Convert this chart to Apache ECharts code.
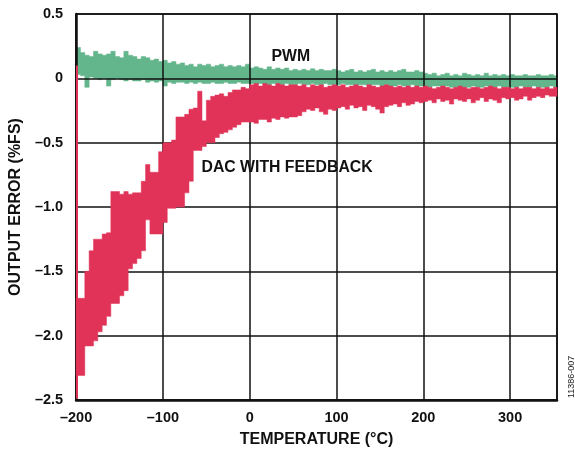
<!DOCTYPE html>
<html>
<head>
<meta charset="utf-8">
<script src="https://cdn.jsdelivr.net/npm/echarts@6/dist/echarts.min.js"></script>
<style>
html,body{margin:0;padding:0;background:#fff;}
#chart{width:575px;height:453px;}
</style>
</head>
<body>
<div id="chart"></div>
<script>
// ---- data ----
var temps = [
-200,-195,-190,-185,-180,-175,-170,-165,-160,-155,
-150,-145,-140,-135,-130,-125,-120,-115,-110,-105,
-100,-95,-90,-85,-80,-75,-70,-65,-60,-55,
-50,-45,-40,-35,-30,-25,-20,-15,-10,-5,
0,5,10,15,20,25,30,35,40,45,
50,55,60,65,70,75,80,85,90,95,
100,105,110,115,120,125,130,135,140,145,
150,155,160,165,170,175,180,185,190,195,
200,205,210,215,220,225,230,235,240,245,
250,255,260,265,270,275,280,285,290,295,
300,305,310,315,320,325,330,335,340,345,
350];

var dacHigh = [
-1.71,-1.71,-1.50,-1.34,-1.25,-1.25,-1.21,-1.20,-0.88,-0.88,
-0.90,-0.88,-0.90,-0.89,-0.89,-0.80,-0.67,-0.73,-0.73,-0.57,
-0.50,-0.50,-0.48,-0.30,-0.30,-0.28,-0.24,-0.23,-0.10,-0.33,
-0.17,-0.14,-0.13,-0.12,-0.14,-0.11,-0.09,-0.09,-0.07,-0.08,
-0.05,-0.04,-0.06,-0.04,-0.05,-0.06,-0.04,-0.05,-0.06,-0.05,
-0.05,-0.06,-0.05,-0.07,-0.05,-0.06,-0.05,-0.07,-0.06,-0.05,
-0.06,-0.05,-0.07,-0.06,-0.05,-0.06,-0.07,-0.05,-0.06,-0.07,
-0.06,-0.05,-0.06,-0.07,-0.06,-0.07,-0.06,-0.07,-0.06,-0.07,
-0.06,-0.07,-0.08,-0.07,-0.06,-0.07,-0.08,-0.07,-0.06,-0.07,
-0.08,-0.07,-0.07,-0.08,-0.07,-0.06,-0.07,-0.08,-0.07,-0.07,
-0.08,-0.07,-0.08,-0.07,-0.07,-0.08,-0.07,-0.08,-0.07,-0.08,
-0.07];

var dacLow = [
-2.31,-2.31,-2.08,-2.08,-2.04,-1.97,-1.92,-1.85,-1.75,-1.75,
-1.69,-1.65,-1.48,-1.44,-1.40,-1.34,-1.10,-1.21,-1.21,-1.21,
-1.12,-1.01,-1.01,-1.00,-1.00,-0.89,-0.80,-0.56,-0.56,-0.53,
-0.50,-0.50,-0.46,-0.43,-0.42,-0.40,-0.38,-0.36,-0.34,-0.34,
-0.34,-0.35,-0.32,-0.32,-0.34,-0.31,-0.32,-0.30,-0.31,-0.30,
-0.30,-0.29,-0.26,-0.24,-0.25,-0.23,-0.26,-0.28,-0.24,-0.25,
-0.23,-0.22,-0.24,-0.21,-0.23,-0.22,-0.25,-0.21,-0.22,-0.24,
-0.27,-0.22,-0.21,-0.20,-0.22,-0.19,-0.21,-0.20,-0.18,-0.19,
-0.18,-0.17,-0.19,-0.16,-0.18,-0.17,-0.20,-0.16,-0.17,-0.18,
-0.16,-0.19,-0.17,-0.15,-0.18,-0.16,-0.17,-0.19,-0.15,-0.16,
-0.15,-0.17,-0.16,-0.14,-0.17,-0.15,-0.14,-0.15,-0.13,-0.14,
-0.14];

var pwmHigh = [
0.24,0.20,0.18,0.17,0.21,0.19,0.18,0.19,0.21,0.17,
0.16,0.21,0.18,0.17,0.15,0.17,0.16,0.14,0.15,0.13,
0.14,0.12,0.13,0.11,0.12,0.10,0.11,0.09,0.11,0.10,
0.11,0.09,0.10,0.11,0.09,0.10,0.09,0.10,0.09,0.11,
0.08,0.09,0.08,0.07,0.09,0.07,0.08,0.07,0.08,0.06,
0.07,0.06,0.07,0.06,0.075,0.06,0.07,0.06,0.06,0.07,
0.06,0.05,0.06,0.07,0.05,0.06,0.05,0.06,0.07,0.05,
0.06,0.05,0.06,0.05,0.06,0.07,0.05,0.05,0.06,0.05,
0.04,0.03,0.04,0.02,0.03,0.04,0.02,0.03,0.02,0.04,
0.03,0.02,0.03,0.02,0.04,0.02,0.03,0.02,0.03,0.02,
0.03,0.02,0.02,0.03,0.02,0.02,0.03,0.02,0.02,0.03,
0.02];

var pwmLow = [
0.03,0.02,-0.07,0.01,0.00,-0.01,0.00,-0.06,-0.01,0.00,
-0.01,-0.02,-0.01,-0.02,-0.02,-0.01,-0.03,-0.02,-0.03,-0.02,
-0.06,-0.03,-0.04,-0.03,-0.03,-0.04,-0.03,-0.04,-0.03,-0.04,
-0.04,-0.03,-0.04,-0.04,-0.03,-0.04,-0.04,-0.03,-0.04,-0.04,
-0.04,-0.05,-0.04,-0.05,-0.05,-0.04,-0.05,-0.05,-0.04,-0.05,
-0.05,-0.04,-0.05,-0.05,-0.04,-0.05,-0.05,-0.04,-0.05,-0.05,
-0.05,-0.04,-0.05,-0.05,-0.06,-0.05,-0.05,-0.06,-0.05,-0.05,
-0.06,-0.05,-0.06,-0.06,-0.05,-0.06,-0.06,-0.05,-0.06,-0.06,
-0.06,-0.07,-0.06,-0.06,-0.07,-0.06,-0.07,-0.07,-0.06,-0.07,
-0.07,-0.06,-0.07,-0.07,-0.06,-0.07,-0.07,-0.06,-0.07,-0.07,
-0.07,-0.07,-0.06,-0.07,-0.07,-0.06,-0.07,-0.07,-0.07,-0.06,
-0.07];

// initial transient of the DAC trace at the cold end
var dacStartTemp = -199;
var dacStartRange = [-2.49, 0.1];

var xTicks = [-200, -100, 0, 100, 200, 300];
var yTicks = [0.5, 0, -0.5, -1.0, -1.5, -2.0, -2.5];

// ---- chart ----
var FONT = '"Liberation Sans", Arial, Helvetica, sans-serif';
var GREEN = '#63b58b';
var RED = '#e13358';

// Band drawn as one stepped polygon: each sample's [low, high] range
// holds until the next sample; the last one for one more sample spacing.
function bandRender(lo, hi, color) {
  return function (params, api) {
    var n = temps.length;
    var cs = params.coordSys;
    var xR = cs.x + cs.width, xL = cs.x;
    function edge(i) { return i < n ? temps[i] : temps[n - 1] + (temps[n - 1] - temps[n - 2]); }
    function pt(t, v) {
      var p = api.coord([t, v]);
      return [Math.max(xL, Math.min(xR, p[0])), p[1]];
    }
    var pts = [];
    for (var i = 0; i < n; i++) {
      pts.push(pt(edge(i), hi[i]));
      pts.push(pt(edge(i + 1), hi[i]));
    }
    for (var j = n - 1; j >= 0; j--) {
      pts.push(pt(edge(j + 1), lo[j]));
      pts.push(pt(edge(j), lo[j]));
    }
    return { type: 'polygon', shape: { points: pts }, style: { fill: color, stroke: color, lineWidth: 0.5 } };
  };
}

function fmtY(v) {
  if (v === 0) return '0';
  return (v < 0 ? '\u2013' : '') + Math.abs(v).toFixed(1);
}
function fmtX(v) {
  return (v < 0 ? '\u2013' : '') + Math.abs(v);
}

var chart = echarts.init(document.getElementById('chart'));
var labelStyle = { color: '#111', fontFamily: FONT, fontWeight: 'bold', fontSize: 14.5 };
var titleStyle = { color: '#111', fontFamily: FONT, fontWeight: 'bold', fontSize: 16 };

chart.setOption({
  animation: false,
  backgroundColor: '#fff',
  grid: { left: 76, right: 18, top: 14, bottom: 53, show: true, borderColor: '#111', borderWidth: 1.6, z: 2 },
  xAxis: {
    type: 'value', min: -200, max: 354, interval: 100, z: 2,
    name: 'TEMPERATURE (\u00B0C)', nameLocation: 'middle', nameGap: 32,
    nameTextStyle: titleStyle,
    axisLine: { show: true, onZero: false, lineStyle: { color: '#111', width: 2.5 } },
    axisTick: { show: false },
    axisLabel: Object.assign({ margin: 10, showMaxLabel: false, formatter: function (v) { return xTicks.indexOf(v) >= 0 ? fmtX(v) : ''; } }, labelStyle),
    splitLine: { show: true, lineStyle: { color: '#111', width: 1.5 } }
  },
  yAxis: {
    type: 'value', min: -2.5, max: 0.5, interval: 0.5, z: 2,
    name: 'OUTPUT ERROR (%FS)', nameLocation: 'middle', nameGap: 46, nameRotate: 90,
    nameTextStyle: titleStyle,
    axisLine: { show: true, onZero: false, lineStyle: { color: '#111', width: 2.5 } },
    axisTick: { show: false },
    axisLabel: Object.assign({ margin: 13, formatter: function (v) { return yTicks.indexOf(v) >= 0 ? fmtY(v) : ''; } }, labelStyle),
    splitLine: { show: true, lineStyle: { color: '#111', width: 1.5 } }
  },
  series: [
    { name: 'PWM', type: 'custom', z: 1, silent: true,
      renderItem: bandRender(pwmLow, pwmHigh, GREEN), data: [[temps[0], pwmHigh[0]]] },
    { name: 'DAC WITH FEEDBACK', type: 'custom', z: 3, silent: true,
      renderItem: bandRender(dacLow, dacHigh, RED), data: [[temps[0], dacHigh[0]]] },
    { name: 'DAC start', type: 'line', z: 3, symbol: 'none', clip: false, silent: true,
      lineStyle: { color: RED, width: 2 },
      data: [[dacStartTemp, dacStartRange[0]], [dacStartTemp, dacStartRange[1]]] }
  ],
  graphic: [
    { type: 'text', x: 271.5, y: 57, z: 10,
      style: { text: 'PWM', fill: '#111', font: 'bold 15.8px ' + FONT, textAlign: 'left', textVerticalAlign: 'middle' } },
    { type: 'text', x: 201.5, y: 168, z: 10,
      style: { text: 'DAC WITH FEEDBACK', fill: '#111', font: 'bold 15.8px ' + FONT, textAlign: 'left', textVerticalAlign: 'middle' } },
    { type: 'text', x: 567, y: 398, rotation: Math.PI / 2, z: 10,
      style: { text: '11386-007', fill: '#222', font: '9px ' + FONT } }
  ]
});
</script>
</body>
</html>
